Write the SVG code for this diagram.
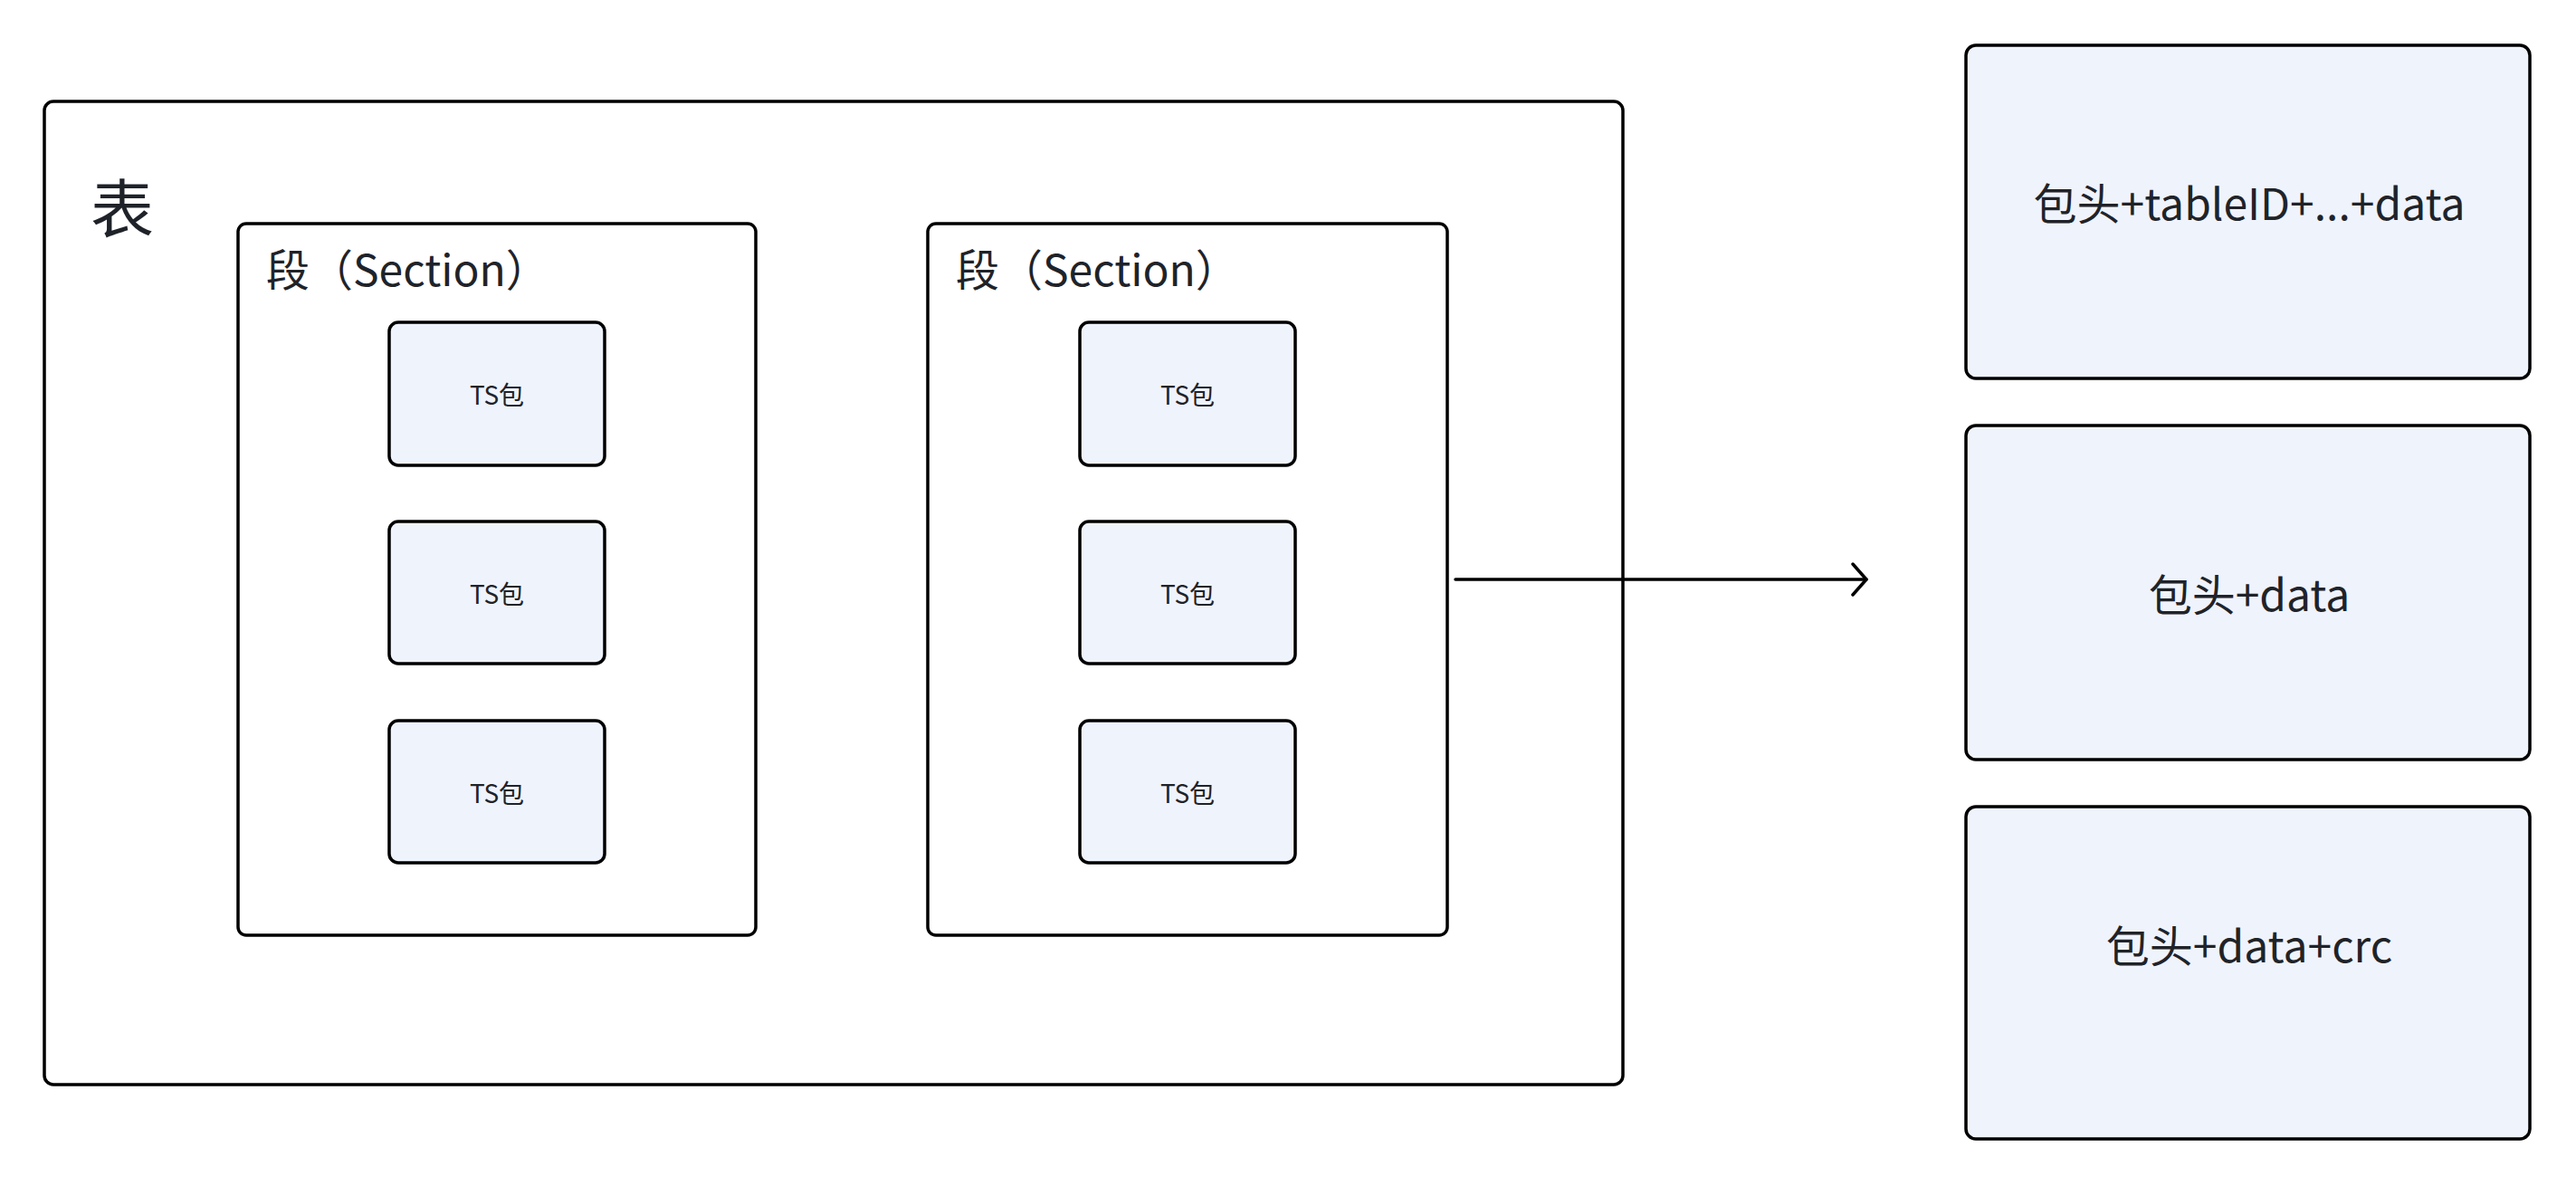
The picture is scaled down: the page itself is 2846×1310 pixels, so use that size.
<svg xmlns="http://www.w3.org/2000/svg" width="2846" height="1310" viewBox="0 0 2846 1310">
<defs>
<style>
.frame{fill:#ffffff;stroke:#000000;stroke-width:3.5}
.pkt{fill:#eff3fc;stroke:#000000;stroke-width:3.5}
.t{font-family:"Noto Sans CJK SC","Noto Sans",sans-serif;fill:#1f2329;dominant-baseline:central}
.c{text-anchor:middle}
.conn{fill:none;stroke:#000000;stroke-width:3.5;stroke-linecap:round;stroke-linejoin:round}
</style>
<marker id="arrow" viewBox="0 0 20 40" refX="18" refY="20" markerWidth="20" markerHeight="40" markerUnits="userSpaceOnUse" orient="auto">
<path d="M3 3 L18 20 L3 37" fill="none" stroke="#000" stroke-width="3.5" stroke-linecap="round" stroke-linejoin="round"/>
</marker>
</defs>
<rect width="2846" height="1310" fill="#ffffff"/>
<g id="table">
<rect class="frame" x="49" y="112" width="1744" height="1086" rx="10"/>
<text class="t" x="100" y="226" font-size="70">表</text>
</g>
<g id="section1">
<rect class="frame" x="263" y="247" width="572" height="786" rx="9"/>
<text class="t" x="294" y="295" font-size="48">段（Section）</text>
</g>
<g id="section2">
<rect class="frame" x="1025" y="247" width="574" height="786" rx="9"/>
<text class="t" x="1056" y="295" font-size="48">段（Section）</text>
</g>
<g id="ts1a"><rect class="pkt" x="430" y="356" width="238" height="158" rx="10"/><text class="t c" x="549" y="435" font-size="28">TS包</text></g>
<g id="ts1b"><rect class="pkt" x="430" y="576" width="238" height="157" rx="10"/><text class="t c" x="549" y="655" font-size="28">TS包</text></g>
<g id="ts1c"><rect class="pkt" x="430" y="796" width="238" height="157" rx="10"/><text class="t c" x="549" y="875" font-size="28">TS包</text></g>
<g id="ts2a"><rect class="pkt" x="1193" y="356" width="238" height="158" rx="10"/><text class="t c" x="1312" y="435" font-size="28">TS包</text></g>
<g id="ts2b"><rect class="pkt" x="1193" y="576" width="238" height="157" rx="10"/><text class="t c" x="1312" y="655" font-size="28">TS包</text></g>
<g id="ts2c"><rect class="pkt" x="1193" y="796" width="238" height="157" rx="10"/><text class="t c" x="1312" y="875" font-size="28">TS包</text></g>
<g id="pkt1"><rect class="pkt" x="2172" y="50" width="623" height="368" rx="11"/><text class="t c" x="2485" y="222" font-size="48">包头+tableID+...+data</text></g>
<g id="pkt2"><rect class="pkt" x="2172" y="470" width="623" height="369" rx="11"/><text class="t c" x="2485" y="654" font-size="48">包头+data</text></g>
<g id="pkt3"><rect class="pkt" x="2172" y="891" width="623" height="367" rx="11"/><text class="t c" x="2485" y="1042" font-size="48">包头+data+crc</text></g>
<g id="connectors">
<path class="conn" d="M1608 640 L2062 640" marker-end="url(#arrow)"/>
</g>
</svg>
